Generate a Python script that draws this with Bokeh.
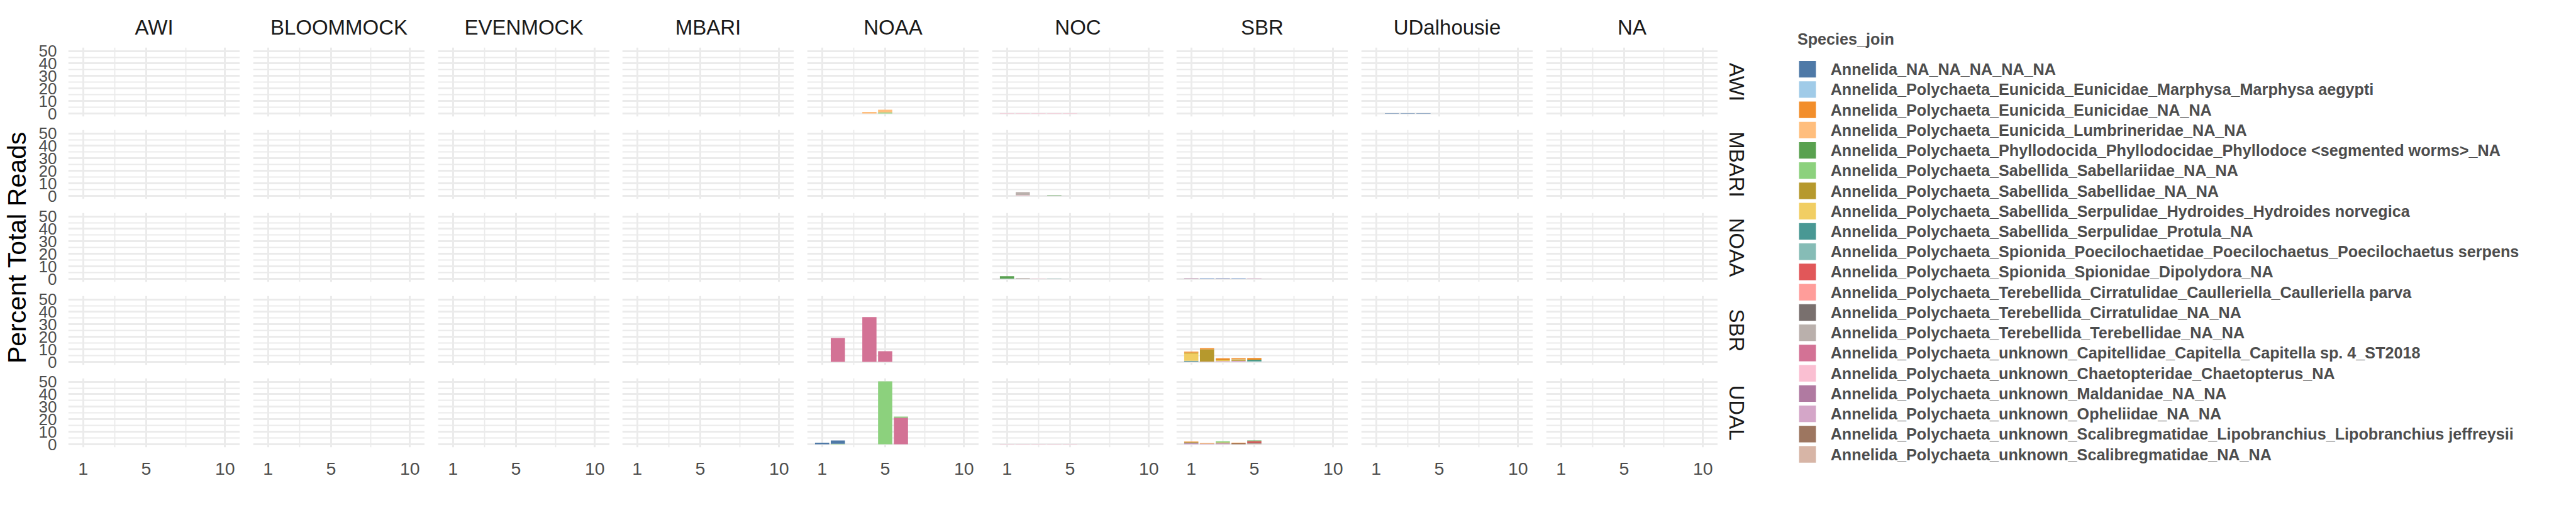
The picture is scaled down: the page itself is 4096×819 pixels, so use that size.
import math
from bokeh.plotting import figure
from bokeh.models import Range1d, FixedTicker, ColumnDataSource, Grid, LinearAxis
from bokeh.layouts import row, column
from bokeh.embed import file_html
from bokeh.resources import INLINE
from bokeh.core.properties import value

# ---------------- data ----------------
col_labels = ["AWI", "BLOOMMOCK", "EVENMOCK", "MBARI", "NOAA", "NOC", "SBR", "UDalhousie", "NA"]
row_labels = ["AWI", "MBARI", "NOAA", "SBR", "UDAL"]
replicates = [1, 2, 3, 4, 5, 6, 7, 8, 9, 10]

species = [
    "Annelida_NA_NA_NA_NA_NA",
    "Annelida_Polychaeta_Eunicida_Eunicidae_Marphysa_Marphysa aegypti",
    "Annelida_Polychaeta_Eunicida_Eunicidae_NA_NA",
    "Annelida_Polychaeta_Eunicida_Lumbrineridae_NA_NA",
    "Annelida_Polychaeta_Phyllodocida_Phyllodocidae_Phyllodoce <segmented worms>_NA",
    "Annelida_Polychaeta_Sabellida_Sabellariidae_NA_NA",
    "Annelida_Polychaeta_Sabellida_Sabellidae_NA_NA",
    "Annelida_Polychaeta_Sabellida_Serpulidae_Hydroides_Hydroides norvegica",
    "Annelida_Polychaeta_Sabellida_Serpulidae_Protula_NA",
    "Annelida_Polychaeta_Spionida_Poecilochaetidae_Poecilochaetus_Poecilochaetus serpens",
    "Annelida_Polychaeta_Spionida_Spionidae_Dipolydora_NA",
    "Annelida_Polychaeta_Terebellida_Cirratulidae_Caulleriella_Caulleriella parva",
    "Annelida_Polychaeta_Terebellida_Cirratulidae_NA_NA",
    "Annelida_Polychaeta_Terebellida_Terebellidae_NA_NA",
    "Annelida_Polychaeta_unknown_Capitellidae_Capitella_Capitella sp. 4_ST2018",
    "Annelida_Polychaeta_unknown_Chaetopteridae_Chaetopterus_NA",
    "Annelida_Polychaeta_unknown_Maldanidae_NA_NA",
    "Annelida_Polychaeta_unknown_Opheliidae_NA_NA",
    "Annelida_Polychaeta_unknown_Scalibregmatidae_Lipobranchius_Lipobranchius jeffreysii",
    "Annelida_Polychaeta_unknown_Scalibregmatidae_NA_NA",
]
palette = ["#4E79A7", "#A0CBE8", "#F28E2B", "#FFBE7D", "#59A14F", "#8CD17D", "#B6992D",
           "#F1CE63", "#499894", "#86BCB6", "#E15759", "#FF9D9A", "#79706E", "#BAB0AC",
           "#D37295", "#FABFD2", "#B07AA1", "#D4A6C8", "#9D7660", "#D7B5A6"]

y_ticks = [0, 10, 20, 30, 40, 50]
y_minor = [5, 15, 25, 35, 45]
x_ticks = [1, 5, 10]
x_minor = [3, 7.5]

# percent of total reads, per species index, replicates 1..10
awi_noaa = {3: [0, 0, 0, 1.2, 2.1, 0, 0, 0, 0, 0],
            5: [0, 0, 0, 0, 0.9, 0, 0, 0, 0, 0]}
awi_noc = {15: [0.3, 0.3, 0.3, 0.3, 0.3, 0, 0, 0, 0, 0]}
awi_udal = {0: [0, 0.3, 0.3, 0.3, 0, 0, 0, 0, 0, 0]}
mbari_noc = {4: [0, 0, 0, 0.4, 0, 0, 0, 0, 0, 0],
             13: [0, 2.6, 0, 0, 0, 0, 0, 0, 0, 0],
             15: [0, 0.45, 0, 0, 0, 0, 0, 0, 0, 0]}
noaa_noc = {4: [1.8, 0, 0, 0, 0, 0, 0, 0, 0, 0],
            9: [0.3, 0, 0, 0.3, 0, 0, 0, 0, 0, 0],
            13: [0, 0.6, 0, 0, 0, 0, 0, 0, 0, 0],
            15: [0, 0, 0.3, 0, 0, 0, 0, 0, 0, 0]}
noaa_sbr = {1: [0, 0.45, 0.3, 0.45, 0, 0, 0, 0, 0, 0],
            16: [0.4, 0, 0.4, 0, 0, 0, 0, 0, 0, 0],
            17: [0, 0.3, 0, 0.3, 0.4, 0, 0, 0, 0, 0]}
sbr_noaa = {14: [0, 19.1, 0, 35.9, 8.6, 0, 0, 0, 0, 0]}
sbr_sbr = {2: [0.75, 0.9, 1.05, 0.75, 1.35, 0, 0, 0, 0, 0],
           3: [0, 0, 0, 0.45, 0, 0, 0, 0, 0, 0],
           4: [0, 0, 0, 0, 0.6, 0, 0, 0, 0, 0],
           6: [0.6, 9.7, 0.6, 1.05, 0, 0, 0, 0, 0, 0],
           7: [5.9, 0, 0.6, 0, 0, 0, 0, 0, 0, 0],
           8: [0.6, 0, 0, 0, 0.6, 0, 0, 0, 0, 0],
           9: [0, 0, 0, 0, 0.6, 0, 0, 0, 0, 0],
           17: [0.3, 0.3, 0.6, 0.9, 0, 0, 0, 0, 0, 0]}
udal_noaa = {0: [1.2, 2.6, 0, 0, 0, 0, 0, 0, 0, 0],
             5: [0, 0.4, 0, 0, 50.3, 0.9, 0, 0, 0, 0],
             14: [0, 0, 0, 0, 0, 21.2, 0, 0, 0, 0]}
udal_noc = {15: [0.3, 0.3, 0.3, 0.3, 0.3, 0, 0, 0, 0, 0]}
udal_sbr = {2: [0.45, 0.45, 0, 0.45, 0, 0, 0, 0, 0, 0],
            4: [0, 0, 0, 0, 0.45, 0, 0, 0, 0, 0],
            5: [0, 0, 0.9, 0, 0, 0, 0, 0, 0, 0],
            6: [0.45, 0, 0.6, 0, 0, 0, 0, 0, 0, 0],
            10: [0, 0, 0, 0, 1.35, 0, 0, 0, 0, 0],
            12: [0.45, 0, 0, 0, 0.6, 0, 0, 0, 0, 0],
            16: [0.3, 0, 0.45, 0, 0, 0, 0, 0, 0, 0],
            17: [0.45, 0.45, 0.45, 0, 0, 0, 0, 0, 0, 0],
            18: [0, 0, 0, 0.75, 0, 0, 0, 0, 0, 0],
            19: [0, 0, 0, 0, 0.6, 0, 0, 0, 0, 0]}

panels = {
    ("AWI", "NOAA"): awi_noaa, ("AWI", "NOC"): awi_noc, ("AWI", "UDalhousie"): awi_udal,
    ("MBARI", "NOC"): mbari_noc,
    ("NOAA", "NOC"): noaa_noc, ("NOAA", "SBR"): noaa_sbr,
    ("SBR", "NOAA"): sbr_noaa, ("SBR", "SBR"): sbr_sbr,
    ("UDAL", "NOAA"): udal_noaa, ("UDAL", "NOC"): udal_noc, ("UDAL", "SBR"): udal_sbr,
}

# ---------------- scales (ggplot-like 5% expansion) ----------------
BAR_W = 0.9
x_lo, x_hi = min(replicates) - BAR_W / 2, max(replicates) + BAR_W / 2
x_pad = 0.05 * (x_hi - x_lo)
XR = (x_lo - x_pad, x_hi + x_pad)
ymax = max(sum(d[k][n] for k in d) for d in panels.values() for n in range(len(replicates)))
YR = (-0.05 * ymax, 1.05 * ymax)

# ---------------- layout (reference px -> page px) ----------------
S = 0.91
OFF = 0          # bokeh's page template sets body margin to 0
TOTAL_W, TOTAL_H = 4096, 819


def fx(r):
    return r * S - OFF


col_left = [round(fx(119 + 322.7 * i)) for i in range(9)]
row_top = [round(fx(82.3 + 144.6 * j)) for j in range(5)]
FW = round(300 * S)
FH = round(121 * S)
LW = 54
HEAD_H = 66
RIGHT_X0 = col_left[-1] + FW

# vertical borders of each panel row (gap split above/below so tick labels fit)
row_bt, row_bb = [], []
prev_end = HEAD_H
for j in range(5):
    row_bt.append(row_top[j] - prev_end)
    if j < 4:
        gap = row_top[j + 1] - (row_top[j] + FH)
        row_bb.append(gap // 2)
    else:
        row_bb.append(TOTAL_H - (row_top[j] + FH))
    prev_end = row_top[j] + FH + row_bb[-1]

FONT = "Liberation Sans"
GRID = "#EBEBEB"
AXC = "#4D4D4D"
STRIPC = "#1A1A1A"


def base_fig(w, h, xr, yr, **kw):
    p = figure(width=w, height=h, x_range=Range1d(*xr), y_range=Range1d(*yr),
               x_axis_location=None, y_axis_location=None, title=None,
               toolbar_location=None, tools="", output_backend="svg",
               background_fill_color="white", border_fill_color="white",
               outline_line_color=None, min_border=0, **kw)
    p.center = []
    return p


def make_panel(i, j):
    bl = col_left[i] - (LW if i == 0 else col_left[i - 1] + FW)
    bt, bb = row_bt[j], row_bb[j]
    p = base_fig(bl + FW, bt + FH + bb, XR, YR,
                 min_border_left=bl, min_border_right=0, min_border_top=bt, min_border_bottom=bb)
    p.add_layout(Grid(dimension=0, ticker=FixedTicker(ticks=x_ticks, minor_ticks=x_minor),
                      grid_line_color=GRID, grid_line_width=3.0,
                      minor_grid_line_color=GRID, minor_grid_line_width=1.8))
    p.add_layout(Grid(dimension=1, ticker=FixedTicker(ticks=y_ticks, minor_ticks=y_minor),
                      grid_line_color=GRID, grid_line_width=3.0,
                      minor_grid_line_color=GRID, minor_grid_line_width=1.8))
    data = panels.get((row_labels[j], col_labels[i]))
    if data:
        order = sorted(data.keys(), reverse=True)
        src = ColumnDataSource({"x": replicates, **{f"s{k}": data[k] for k in order}})
        p.vbar_stack([f"s{k}" for k in order], x="x", width=BAR_W, source=src,
                     fill_color=[palette[k] for k in order], line_color=None)
    if i == 0:
        ya = LinearAxis(ticker=FixedTicker(ticks=y_ticks), axis_line_color=None,
                        major_tick_line_color=None, minor_tick_line_color=None,
                        major_tick_out=0, minor_tick_out=0, major_tick_in=0, minor_tick_in=0,
                        major_label_standoff=18, major_label_text_font=FONT,
                        major_label_text_font_size="26px", major_label_text_color=AXC)
        p.add_layout(ya, "left")
    if j == 4:
        xa = LinearAxis(ticker=FixedTicker(ticks=x_ticks), axis_line_color=None,
                        major_tick_line_color=None, minor_tick_line_color=None,
                        major_tick_out=0, minor_tick_out=0, major_tick_in=0, minor_tick_in=0,
                        major_label_standoff=24, major_label_text_font=FONT,
                        major_label_text_font_size="28.5px", major_label_text_color=AXC)
        p.add_layout(xa, "below")
    return p


# header with column strip labels
head = base_fig(RIGHT_X0 - LW, HEAD_H, (LW, RIGHT_X0), (HEAD_H, 0))
head.text(x=[col_left[i] + FW / 2 for i in range(9)], y=[fx(47.2)] * 9, text=col_labels,
          text_font=value(FONT), text_font_size=value("33px"), text_color=STRIPC,
          text_align="center", text_baseline="middle")

# left: y-axis title
left = base_fig(LW, TOTAL_H, (0, LW), (TOTAL_H, 0))
left.text(x=[max(fx(27.8), 26)], y=[(row_top[0] + row_top[-1] + FH) / 2], text=["Percent Total Reads"],
          angle=math.pi / 2, text_font=value(FONT), text_font_size=value("41px"),
          text_color="black", text_align="center", text_baseline="middle")

# right: row strip labels + legend
right = base_fig(TOTAL_W - RIGHT_X0, TOTAL_H, (RIGHT_X0, TOTAL_W), (TOTAL_H, 0))
right.text(x=[fx(3034)] * 5, y=[row_top[j] + FH / 2 for j in range(5)], text=row_labels,
           angle=-math.pi / 2, text_font=value(FONT), text_font_size=value("33px"),
           text_color=STRIPC, text_align="center", text_baseline="middle")

key_left, key_w, key_h = fx(3143), 29.5 * S, 29 * S
pitch = 35.42 * S
key_y = [fx(120.5) + pitch * k for k in range(len(species))]
right.text(x=[fx(3140)], y=[fx(67.1)], text=["Species_join"], text_font=value(FONT),
           text_font_size=value("25.2px"), text_font_style="bold", text_color=AXC,
           text_align="left", text_baseline="middle")
right.rect(x=[key_left + key_w / 2] * len(species), y=key_y, width=key_w, height=key_h,
           width_units="screen", height_units="screen", fill_color=palette, line_color=None)
right.text(x=[fx(3198)] * len(species), y=key_y, text=species, text_font=value(FONT),
           text_font_size=value("25.2px"), text_font_style="bold", text_color=AXC,
           text_align="left", text_baseline="middle")

grid_rows = [row(*[make_panel(i, j) for i in range(9)]) for j in range(5)]
layout = row(left, column(head, *grid_rows), right)

open("out.html", "w").write(file_html(layout, INLINE))
